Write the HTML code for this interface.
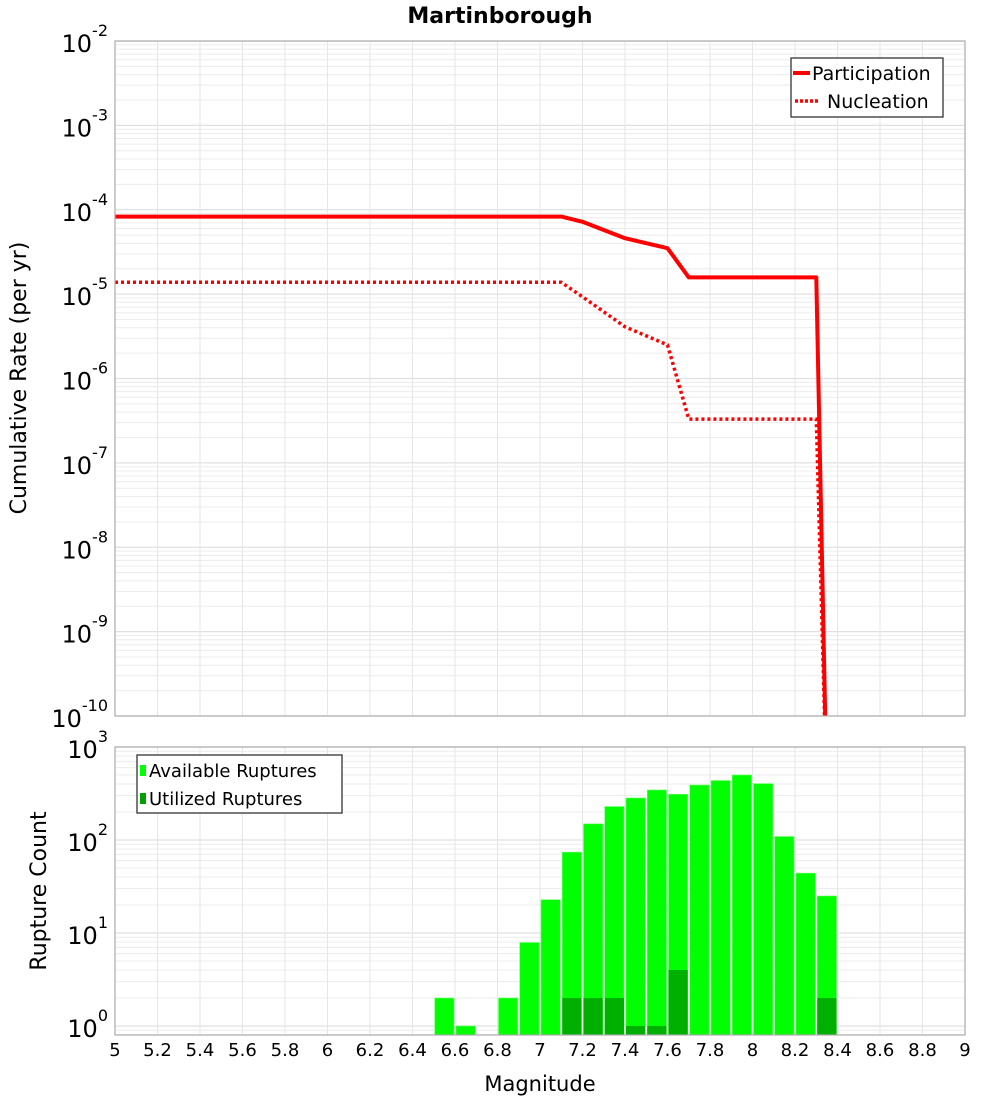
<!DOCTYPE html>
<html><head><meta charset="utf-8"><style>
body{margin:0;background:#fff;width:1000px;height:1100px;overflow:hidden}
svg{display:block;font-family:"DejaVu Sans","Liberation Sans",sans-serif}
</style></head><body>
<svg id="c" width="1000" height="1100" xmlns="http://www.w3.org/2000/svg"></svg>
<script>
const mags = [5.0, 7.1, 7.2, 7.4, 7.6, 7.7, 8.3, 8.35];
const participation = [8.3e-5, 8.3e-5, 7.2e-5, 4.6e-5, 3.5e-5, 1.58e-5, 1.58e-5, 1e-11];
const nucleation = [1.38e-5, 1.38e-5, 9.3e-6, 4.1e-6, 2.5e-6, 3.3e-7, 3.3e-7, 1e-11];
const binStarts = [6.5, 6.6, 6.8, 6.9, 7.0, 7.1, 7.2, 7.3, 7.4, 7.5, 7.6, 7.7, 7.8, 7.9, 8.0, 8.1, 8.2, 8.3];
const available = [2, 1, 2, 7.9, 22.8, 74, 149, 229, 283, 345, 310, 390, 436, 500, 404, 109, 44, 25];
const utilized = [0, 0, 0, 0, 0, 2, 2, 2, 1, 1, 4, 0, 0, 0, 0, 0, 0, 2];
const xTicks = ["5","5.2","5.4","5.6","5.8","6","6.2","6.4","6.6","6.8","7","7.2","7.4","7.6","7.8","8","8.2","8.4","8.6","8.8","9"];
const topExps = [-2,-3,-4,-5,-6,-7,-8,-9,-10];
const botExps = [3,2,1,0];

const NS="http://www.w3.org/2000/svg";
const svg=document.getElementById('c');
function mk(tag,attrs,parent){const e=document.createElementNS(NS,tag);for(const k in attrs)e.setAttribute(k,attrs[k]);(parent||svg).appendChild(e);return e;}
const X0=115,X1=965;
const xs=m=>X0+(m-5)/4*(X1-X0);
const T0=41,T1=716;
const yt=v=>T0+(-2-Math.log10(v))*(T1-T0)/8;
const B0=747,B1=1035,BD=93;
const yb=v=>B0+(3-Math.log10(v))*BD;

// clip paths
const defs=mk('defs',{});
const cp1=mk('clipPath',{id:'ct'},defs);mk('rect',{x:X0,y:T0,width:X1-X0,height:T1-T0},cp1);
const cp2=mk('clipPath',{id:'cb'},defs);mk('rect',{x:X0,y:B0,width:X1-X0,height:B1-B0},cp2);

// grids
function grids(ytf,top,bot,eMin,eMax,clip,name){
  const g=mk('g',{'clip-path':`url(#${clip})`});
  
  
  for(let e=eMin;e<=eMax;e++)for(let k=1;k<10;k++){const y=ytf(k*Math.pow(10,e));if(y<top-1||y>bot+1)continue;
    mk('line',{x1:X0,x2:X1,y1:y,y2:y,stroke:k==1?'#e0e0e0':'#ececec','stroke-width':k==1?1.2:1},g);}
  for(let i=0;i<=20;i++){const x=xs(5+i*0.2);mk('line',{x1:x,x2:x,y1:top,y2:bot,stroke:'#e6e6e6','stroke-width':1},g);}
}
grids(yt,T0,T1,-11,-2,'ct','top-grid');
grids(yb,B0,B1,-1,3,'cb','bottom-grid');

// lines
function pts(a){return mags.map((m,i)=>xs(m).toFixed(1)+','+yt(a[i]).toFixed(1)).join(' ');}
const lg=mk('g',{'clip-path':'url(#ct)'});
const pl=mk('polyline',{points:pts(participation),fill:'none',stroke:'#ff0000','stroke-width':4,'stroke-linejoin':'round'},lg);


const nl=mk('polyline',{points:pts(nucleation),fill:'none',stroke:'#ff0000','stroke-width':3.5,'stroke-dasharray':'3 3'},lg);



// bars
const bg=mk('g',{'clip-path':'url(#cb)'});
binStarts.forEach((b,i)=>{
  const xa=xs(b)+1,w=xs(b+0.1)-xs(b)-2;
  const r=mk('rect',{x:xa,y:yb(available[i]),width:w,height:B1-yb(available[i]),fill:'#00ff00',stroke:'#66ff66','stroke-width':0.6},bg);
  
  
  if(utilized[i]>0){const u=mk('rect',{x:xa,y:yb(utilized[i]),width:w,height:B1-yb(utilized[i]),fill:'#00b000'},bg);
    
    }
});

// frames
mk('rect',{x:X0,y:T0,width:X1-X0,height:T1-T0,fill:'none',stroke:'#aaa','stroke-width':1.2});
mk('rect',{x:X0,y:B0,width:X1-X0,height:B1-B0,fill:'none',stroke:'#aaa','stroke-width':1.2});

// y tick labels
function ylab(e,y,name){const t=mk('text',{x:108,y:y+11,'text-anchor':'end','font-size':24,fill:'#000'});
  
  t.textContent='10';const s=mk('tspan',{dy:-16,'font-size':16},t);s.textContent=String(e);}
topExps.forEach(e=>ylab(e,yt(Math.pow(10,e)),'top-y-tick-label'));
botExps.forEach(e=>ylab(e,yb(Math.pow(10,e)),'bottom-y-tick-label'));
// x ticks
xTicks.forEach(s=>{const t=mk('text',{x:xs(+s),y:1056,'text-anchor':'middle','font-size':18,fill:'#000'});
  t.textContent=s;});

function txt(s,attrs,name){const t=mk('text',attrs);t.textContent=s;return t;}
txt('Martinborough',{x:500,y:23,'text-anchor':'middle','font-size':22,'font-weight':'bold'},'chart-title');
txt('Magnitude',{x:540,y:1091,'text-anchor':'middle','font-size':21},'x-axis-title');
txt('Cumulative Rate (per yr)',{x:0,y:0,'text-anchor':'middle','font-size':22,transform:'translate(26,378) rotate(-90)'},'top-y-axis-title');
txt('Rupture Count',{x:0,y:0,'text-anchor':'middle','font-size':22,transform:'translate(46,891) rotate(-90)'},'bottom-y-axis-title');

// legends
const l1=mk('g',{});
mk('rect',{x:791,y:58,width:152,height:59,fill:'#fff',stroke:'#333','stroke-width':1.3},l1);
mk('line',{x1:793,x2:810,y1:73,y2:73,stroke:'#f00','stroke-width':4},l1);
mk('line',{x1:795,x2:819,y1:101,y2:101,stroke:'#f00','stroke-width':3.5,'stroke-dasharray':'3 2'},l1);
txt('Participation',{x:812,y:80,'font-size':19},'legend-participation');
txt('Nucleation',{x:827,y:108,'font-size':19},'legend-nucleation');
const l2=mk('g',{});
mk('rect',{x:137,y:755,width:205,height:58,fill:'#fff',stroke:'#333','stroke-width':1.3},l2);
mk('rect',{x:140,y:765,width:6,height:11,fill:'#00ff00'},l2);
mk('rect',{x:140,y:793,width:6,height:11,fill:'#00a000'},l2);
txt('Available Ruptures',{x:149,y:777,'font-size':18},'legend-available');
txt('Utilized Ruptures',{x:149,y:805,'font-size':18},'legend-utilized');
</script>
</body></html>
